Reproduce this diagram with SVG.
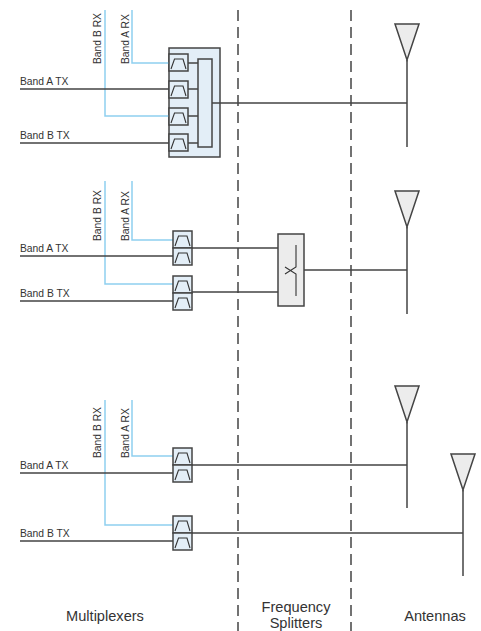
<svg xmlns="http://www.w3.org/2000/svg" width="481" height="631" viewBox="0 0 481 631">
<defs>
<style>
text{font-family:"Liberation Sans",Arial,sans-serif;fill:#333}
.s{font-size:10.300px}
.l{font-size:14.600px;text-anchor:middle}
.w{fill:none;stroke:#444;stroke-width:1.5}
.b{fill:none;stroke:#8fd0f0;stroke-width:1.5}
.d{fill:none;stroke:#444;stroke-width:1.5;stroke-dasharray:11 6}
.p{fill:#e3eef7;stroke:#444;stroke-width:1.5}
.g{fill:#ececec;stroke:#444;stroke-width:1.5}
.c{fill:none;stroke:#333;stroke-width:1.1}
</style>
<g id="f"><rect class="p" width="19" height="17"/><path class="c" d="M2 15L5.500 5H14L17 15"/></g>
<path id="a" class="g" d="M-12 0H12L0 36Z"/>
</defs>
<g id="mux1"><rect class="p" x="169" y="48" width="51" height="109"/></g>
<g id="connectors">
<path class="d" d="M238 10V631M351 10V631"/>
<path class="b" d="M132 10V63H169M105 10V116H169"/>
<path class="w" d="M20 89H169M20 143H169M188 63H198M188 89H198M188 116H198M188 143H198M212 103H407M407 60V147"/>
<path class="b" d="M132 181V240H173M105 181V284H173"/>
<path class="w" d="M20 256H173M20 301H173M192 248H278M192 292H278M304 270H407M407 227V314"/>
<path class="b" d="M132 400V456H173M105 400V525H173"/>
<path class="w" d="M20 473H173M20 541H173M192 465H407M192 533H463M407 422V508M463 490V576"/>
</g>
<g id="mux1-parts"><use href="#f" x="169" y="54"/><use href="#f" x="169" y="81"/><use href="#f" x="169" y="108"/><use href="#f" x="169" y="134"/><rect class="p" x="198" y="59" width="14" height="88"/></g>
<g id="mux2a"><use href="#f" x="173" y="231"/><use href="#f" x="173" y="248"/></g>
<g id="mux2b"><use href="#f" x="173" y="276"/><use href="#f" x="173" y="293"/></g>
<g id="splitter"><rect class="g" x="278" y="234" width="26" height="72"/><path class="c" d="M296 245V267L285 274M285 267L296 274V296"/></g>
<g id="mux3a"><use href="#f" x="173" y="448"/><use href="#f" x="173" y="465"/></g>
<g id="mux3b"><use href="#f" x="173" y="516"/><use href="#f" x="173" y="533"/></g>
<g id="ant1"><use href="#a" x="407" y="24"/></g>
<g id="ant2"><use href="#a" x="407" y="191"/></g>
<g id="ant3"><use href="#a" x="407" y="386"/></g>
<g id="ant4"><use href="#a" x="463" y="454"/></g>
<g id="labels">
<text class="s" x="20" y="85">Band A TX</text>
<text class="s" x="20" y="139">Band B TX</text>
<text class="s" x="20" y="252">Band A TX</text>
<text class="s" x="20" y="297">Band B TX</text>
<text class="s" x="20" y="469">Band A TX</text>
<text class="s" x="20" y="537">Band B TX</text>
<text class="s" transform="translate(101 64) rotate(-90)">Band B RX</text>
<text class="s" transform="translate(129 64) rotate(-90)">Band A RX</text>
<text class="s" transform="translate(101 241) rotate(-90)">Band B RX</text>
<text class="s" transform="translate(129 241) rotate(-90)">Band A RX</text>
<text class="s" transform="translate(101 458) rotate(-90)">Band B RX</text>
<text class="s" transform="translate(129 458) rotate(-90)">Band A RX</text>
<text class="l" x="105" y="621">Multiplexers</text>
<text class="l" x="296" y="612">Frequency</text>
<text class="l" x="296" y="627.500">Splitters</text>
<text class="l" x="435" y="621">Antennas</text>
</g>
</svg>
